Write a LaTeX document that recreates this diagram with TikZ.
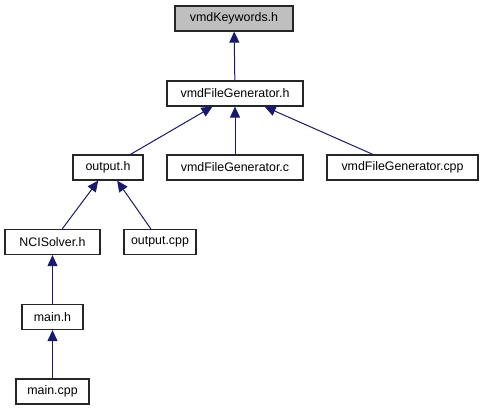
\documentclass[tikz,border=0pt]{standalone}
\usepackage{fontspec}
\setmainfont{Liberation Sans}
\usetikzlibrary{arrows.meta}
\definecolor{edgeblue}{RGB}{25,25,112}
\begin{document}
\begin{tikzpicture}[x=1pt,y=-1pt,line width=1pt,
  file/.style={draw=black!85,line width=1.2pt,minimum height=25pt,inner sep=0pt,font=\fontsize{12.4}{14}\selectfont},
  dep/.style={draw=edgeblue,-{Triangle[length=11pt,width=10pt]}}]
\useasboundingbox (0,0) rectangle (484,411);
\node[file,fill=black!25,minimum width=118pt] (kw) at (234,18.5) {vmdKeywords.h};
\node[file,minimum width=136pt] (fgh) at (235,93.5) {vmdFileGenerator.h};
\node[file,minimum width=70pt] (outh) at (108,167.5) {output.h};
\node[file,minimum width=136pt] (fgc) at (235,167.5) {vmdFileGenerator.c};
\node[file,minimum width=151pt] (fgcpp) at (402.5,167.5) {vmdFileGenerator.cpp};
\node[file,minimum width=95pt] (nci) at (52.5,242) {NCISolver.h};
\node[file,minimum width=72pt] (outcpp) at (160,242) {output.cpp};
\node[file,minimum width=61pt] (mainh) at (52.5,317) {main.h};
\node[file,minimum width=73pt] (maincpp) at (52.5,391.5) {main.cpp};
\draw[dep] (fgh)--(kw); \draw[dep] (outh)--(fgh); \draw[dep] (fgc)--(fgh); \draw[dep] (fgcpp)--(fgh);
\draw[dep] (nci)--(outh); \draw[dep] (outcpp)--(outh);
\draw[dep] (mainh)--(nci); \draw[dep] (maincpp)--(mainh);
\end{tikzpicture}
\end{document}
